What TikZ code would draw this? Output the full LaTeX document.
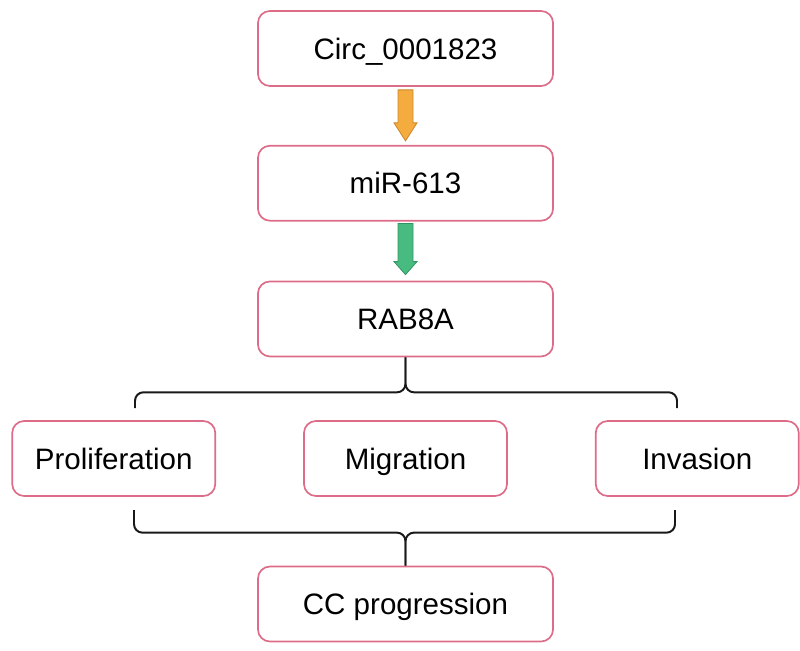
\documentclass[tikz,border=0pt]{standalone}
\usepackage{fontspec}
\setmainfont{Liberation Sans}
\usepackage{tikz}
\usetikzlibrary{positioning, calc}
\definecolor{boxpink}{RGB}{221, 108, 136}
\definecolor{arroworange}{RGB}{245, 172, 62}
\definecolor{orangeline}{RGB}{205, 135, 45}
\definecolor{arrowgreen}{RGB}{72, 188, 128}
\definecolor{greenline}{RGB}{50, 150, 100}

\begin{document}
\begin{tikzpicture}[
    x=0.025cm, y=-0.025cm,
    stepbox/.style={draw=boxpink, line width=1.2pt, rounded corners=0.3cm, fill=white,
                    minimum height=1.875cm, align=center, text height=19.5pt, text depth=4.5pt,
                    font=\fontsize{21}{25}\selectfont},
    widebox/.style={stepbox, minimum width=7.375cm},
    smallbox/.style={stepbox, minimum width=5.075cm},
    brace/.style={draw=black!90, line width=1.4pt, rounded corners=6pt},
    orangearr/.style={fill=arroworange, draw=orangeline, line width=0.6pt},
    greenarr/.style={fill=arrowgreen, draw=greenline, line width=0.6pt}
]
    \useasboundingbox (0,0) rectangle (800,650);

    % Pathway boxes
    \node[widebox] (circ) at (405.5,48.5) {Circ\_0001823};
    \node[widebox, below=1.45cm of circ] (mir) {miR-613};
    \node[widebox, below=1.475cm of mir] (rab) {RAB8A};

    % Cell effects
    \node[smallbox] (migration) at (405.5,458.5) {Migration};
    \node[smallbox, left=2.175cm of migration] (prolif) {Proliferation};
    \node[smallbox, right=2.175cm of migration] (invasion) {Invasion};

    % Outcome
    \node[widebox] (ccprog) at (405.5,604) {CC progression};

    % Block arrows
    \draw[orangearr] ($(circ.south)+(-7.5,3)$) -- ($(circ.south)+(-7.5,36)$)
        -- ($(circ.south)+(-11.5,36)$) -- ($(mir.north)+(0,-4)$)
        -- ($(circ.south)+(11.5,36)$) -- ($(circ.south)+(7.5,36)$)
        -- ($(circ.south)+(7.5,3)$) -- cycle;
    \draw[greenarr] ($(mir.south)+(-7.5,2)$) -- ($(mir.south)+(-7.5,40)$)
        -- ($(mir.south)+(-11.5,40)$) -- ($(rab.north)+(0,-6)$)
        -- ($(mir.south)+(11.5,40)$) -- ($(mir.south)+(7.5,40)$)
        -- ($(mir.south)+(7.5,2)$) -- cycle;

    % Braces
    \coordinate (topmid) at ($(rab.south)+(0,35)$);
    \coordinate (topleft) at (135,408);
    \coordinate (topright) at (677,408);
    \draw[brace] (rab.south) -- (topmid) -| (topleft);
    \draw[brace] (rab.south) -- (topmid) -| (topright);

    \coordinate (botmid) at ($(ccprog.north)+(0,-33)$);
    \coordinate (botleft) at (134,510);
    \coordinate (botright) at (675,510);
    \draw[brace] (ccprog.north) -- (botmid) -| (botleft);
    \draw[brace] (ccprog.north) -- (botmid) -| (botright);
\end{tikzpicture}
\end{document}
